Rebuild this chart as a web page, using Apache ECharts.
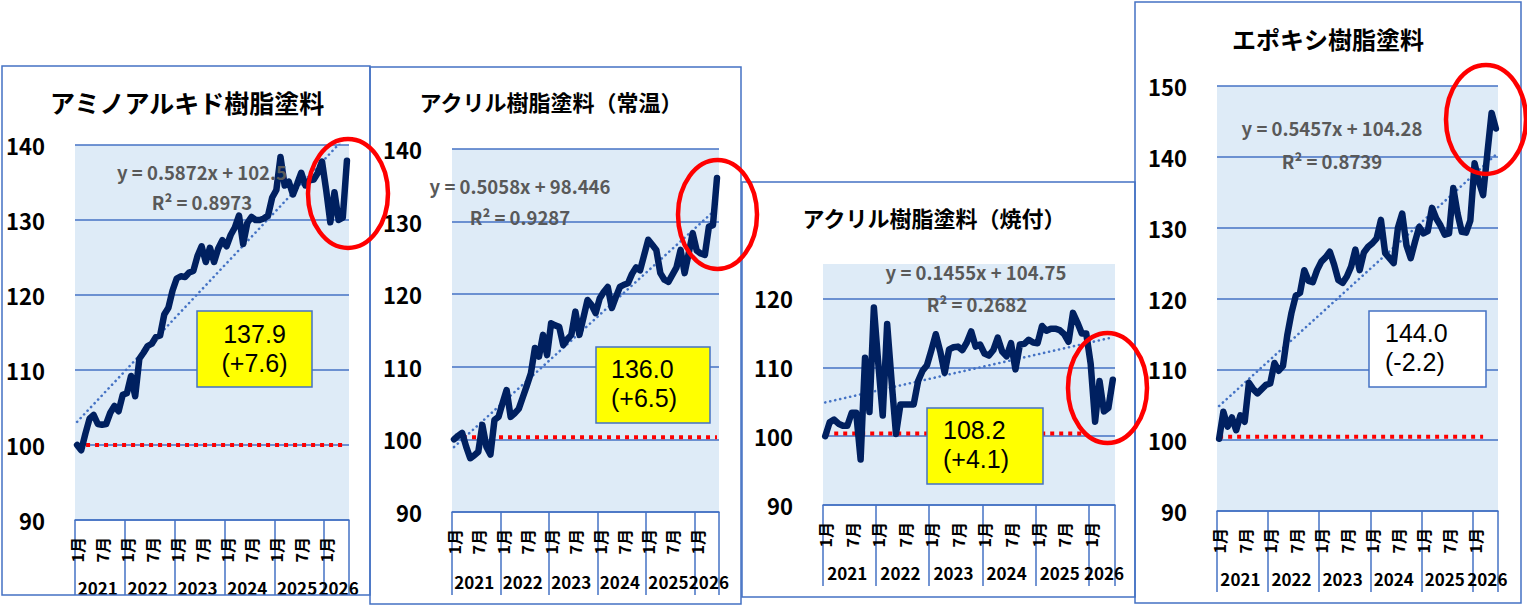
<!DOCTYPE html>
<html lang="ja">
<head>
<meta charset="UTF-8">
<title>樹脂塗料 指数推移</title>
<style>
  * { margin: 0; padding: 0; }
  html, body { width: 1527px; height: 606px; background: #fff; overflow: hidden; }
  #chart { width: 1527px; height: 606px; }
</style>
</head>
<body>
<div id="chart"></div>
<script src="https://cdn.jsdelivr.net/npm/echarts@6/dist/echarts.min.js"></script>
<script>
var FONT = '"Noto Sans CJK JP", "Noto Sans", sans-serif';
var BOX_FONT = '"Liberation Sans", Arial, sans-serif';
var BLUE = '#4472C4';
var NAVY = '#002060';

// ---- data ----
var years = ['2021', '2022', '2023', '2024', '2025', '2026'];
var monthsPerYear = [12, 12, 12, 12, 12, 6];
var monthNames = ['1月', '2月', '3月', '4月', '5月', '6月', '7月', '8月', '9月', '10月', '11月', '12月'];

var titles = ['アミノアルキド樹脂塗料', 'アクリル樹脂塗料（常温）', 'アクリル樹脂塗料（焼付）', 'エポキシ樹脂塗料'];

var aminoAlkyd = [
  100.0, 99.3, 101.5, 103.5, 104.0, 102.8, 102.7, 102.8, 104.3, 105.2, 104.5, 106.7,
  106.9, 109.2, 106.5, 111.5, 112.3, 113.2, 113.5, 114.4, 114.6, 117.4, 118.3, 120.6,
  122.2, 122.5, 122.4, 123.0, 123.2, 125.2, 126.5, 124.4, 126.3, 124.4, 126.2, 127.3,
  126.5, 128.0, 129.0, 130.6, 126.8, 129.6, 130.4, 130.0, 130.0, 130.2, 130.6, 133.0,
  134.0, 138.4, 134.6, 135.1, 133.4, 134.8, 136.3, 134.6, 135.3, 135.4, 136.3, 137.8,
  134.0, 129.7, 133.7, 130.0, 130.3, 137.9
];
var acrylicAmbient = [
  100.0, 100.5, 100.9, 99.0, 97.4, 97.8, 98.3, 102.0, 99.0, 97.9, 102.7, 103.1,
  105.0, 106.8, 103.1, 103.6, 104.2, 105.8, 107.4, 109.1, 112.6, 111.4, 114.4, 111.6,
  116.0, 115.7, 115.5, 113.0, 113.8, 114.4, 117.6, 114.4, 116.8, 119.2, 118.5, 117.4,
  119.4, 120.3, 121.0, 118.1, 119.6, 121.0, 121.3, 121.5, 122.8, 123.7, 123.3, 125.4,
  127.5, 126.8, 126.1, 122.9, 122.0, 121.7, 122.7, 123.7, 126.1, 122.9, 125.6, 128.4,
  126.0, 125.6, 125.4, 129.3, 129.5, 136.0
];
var acrylicBaked = [
  100.0, 102.0, 102.4, 101.8, 101.5, 101.5, 103.4, 103.4, 96.6, 111.4, 103.5, 118.7,
  110.5, 103.0, 116.3, 108.0, 100.3, 104.6, 104.6, 104.6, 104.6, 108.0, 109.5, 110.3,
  112.5, 114.8, 112.3, 109.2, 112.6, 112.9, 113.0, 112.5, 113.6, 115.2, 113.0, 113.3,
  112.0, 111.7, 112.5, 114.3, 112.3, 111.6, 113.5, 109.7, 113.3, 113.4, 114.0, 113.6,
  113.5, 116.0, 115.3, 115.6, 115.6, 115.4, 114.8, 113.7, 117.9, 116.5, 114.9, 114.9,
  110.5, 102.1, 108.0, 103.6, 104.1, 108.2
];
var epoxy = [
  100.2, 104.0, 101.9, 103.2, 101.4, 103.5, 102.6, 108.1, 107.2, 106.6, 107.2, 107.8,
  108.0, 110.9, 109.8, 110.5, 114.8, 118.0, 120.4, 120.8, 124.0, 122.5, 122.3, 124.0,
  125.2, 125.8, 126.6, 124.8, 122.6, 122.2, 123.1, 124.5, 126.9, 124.0, 126.5, 127.3,
  127.8, 128.5, 131.1, 126.4, 125.7, 125.0, 130.0, 132.0, 127.5, 125.7, 128.0, 130.1,
  129.2, 129.5, 132.8, 131.3, 130.3, 129.0, 129.2, 135.6, 132.0, 129.4, 129.3, 131.0,
  139.1, 136.5, 134.6, 140.5, 146.2, 144.0
];

var trendSlope = [0.5872, 0.5058, 0.1455, 0.5457];
var trendIntercept = [102.5, 98.446, 104.75, 104.28];
var trendR2 = ['0.8973', '0.9287', '0.2682', '0.8739'];
var latestValue = ['137.9', '136.0', '108.2', '144.0'];
var latestChange = ['(+7.6)', '(+6.5)', '(+4.1)', '(-2.2)'];
var axisMax = [140, 140, 125, 150];
var baseLevel = [100, 100.3, 100.4, 100.5];
var baseLastIndex = [65, 65, 58, 62];

var seriesData = [aminoAlkyd, acrylicAmbient, acrylicBaked, epoxy];

// ---- layout of the four panels ----
var panels = [
  { grid: [75, 145, 274, 375], frame: [2, 66, 368, 529], tickLen: 75, yearMargin: 59,
    title: [187, 102, 25], eq: [202, 172], r2: [202, 202],
    box: [197, 311, 115, 76], boxFill: '#FFFF00', boxText: [254.5, 'center', 334, 363],
    ellipse: [348, 193.5, 40, 54.5] },
  { grid: [452, 149, 267, 363], frame: [370, 67, 371, 537], tickLen: 83, yearMargin: 61,
    title: [551, 101, 22], eq: [520, 186], r2: [520, 217],
    box: [596, 347, 114, 76], boxFill: '#FFFF00', boxText: [611, 'left', 369, 398],
    ellipse: [717.5, 214.5, 39.5, 54.5] },
  { grid: [823, 264, 292, 241], frame: [742, 182, 393, 415], tickLen: 81, yearMargin: 59,
    title: [934, 217, 22], eq: [976, 272], r2: [977, 304],
    box: [927, 408, 116, 76], boxFill: '#FFFF00', boxText: [943, 'left', 430, 459],
    ellipse: [1107.5, 388, 39.5, 55] },
  { grid: [1217, 86, 281, 425], frame: [1135, 2, 386, 601], tickLen: 81, yearMargin: 59,
    title: [1328, 38, 24], eq: [1332, 128], r2: [1332, 161],
    box: [1369, 311, 117, 76], boxFill: '#FFFFFF', boxText: [1385, 'left', 333, 362],
    ellipse: [1486, 119.5, 40, 54.5] }
];

// category labels: month row and year row
var monthCats = [];
var yearCats = [];
var yearLabelAt = {};
var lastYearAt = -1;
var start = 0;
years.forEach(function (y, k) {
  for (var m = 0; m < monthsPerYear[k]; m++) {
    monthCats.push(monthNames[m]);
    yearCats.push(y);
  }
  if (k === years.length - 1) lastYearAt = start + monthsPerYear[k] / 2;
  else yearLabelAt[start + monthsPerYear[k] / 2 - 1] = true;
  start += monthsPerYear[k];
});

var grids = [], xAxes = [], yAxes = [], series = [], elements = [];

function yearAxis(k, margin, show) {
  return {
    type: 'category', gridIndex: k, position: 'bottom', data: yearCats,
    axisLine: { show: false }, axisTick: { show: false },
    axisLabel: {
      interval: show, hideOverlap: false,
      margin: margin, fontSize: 17, fontWeight: 'bold', color: '#000',
      fontFamily: FONT
    },
    splitLine: { show: false }
  };
}

panels.forEach(function (p, k) {
  grids.push({
    left: p.grid[0], top: p.grid[1], width: p.grid[2], height: p.grid[3],
    show: true, backgroundColor: '#DEEBF7', borderWidth: 0
  });

  // month row (its long ticks are the year dividers)
  xAxes.push({
    type: 'category', gridIndex: k, position: 'bottom', data: monthCats,
    axisLine: { lineStyle: { color: BLUE, width: 1.5 } },
    axisTick: {
      show: true, length: p.tickLen, interval: 11,
      lineStyle: { color: BLUE, width: 1.5 }
    },
    axisLabel: {
      interval: function (i) { return i % 6 === 0; },
      rotate: 90, margin: 17, fontSize: 16, fontWeight: 'bold',
      color: '#000', fontFamily: FONT
    },
    splitLine: { show: false }
  });
  // year row: full years, then the partial last year on its own axis
  xAxes.push(yearAxis(k, p.yearMargin, function (i) { return !!yearLabelAt[i]; }));
  xAxes.push(yearAxis(k, p.yearMargin, function (i) { return i === lastYearAt; }));

  yAxes.push({
    type: 'value', gridIndex: k, min: 90, max: axisMax[k], interval: 10,
    axisLine: { show: false }, axisTick: { show: false },
    axisLabel: {
      margin: 30, fontSize: 22, fontWeight: 'bold', color: '#000', fontFamily: FONT,
      showMaxLabel: axisMax[k] % 10 === 0
    },
    splitLine: {
      show: true, showMaxLine: axisMax[k] % 10 === 0,
      lineStyle: { color: BLUE, width: 1.5 }
    }
  });

  var vals = seriesData[k];
  var n = vals.length;
  var xi = 3 * k;

  // red reference level
  series.push({
    type: 'line', xAxisIndex: xi, yAxisIndex: k, silent: true, showSymbol: false,
    data: [[0, baseLevel[k]], [baseLastIndex[k], baseLevel[k]]],
    lineStyle: { color: '#FF0000', width: 4, type: [4, 5] }, z: 3
  });
  // linear trend from the printed equation
  series.push({
    type: 'line', xAxisIndex: xi, yAxisIndex: k, silent: true, showSymbol: false,
    data: [[0, trendIntercept[k] + trendSlope[k]], [n - 1, trendIntercept[k] + trendSlope[k] * n]],
    lineStyle: { color: BLUE, width: 2.6, type: [0.1, 5], cap: 'round' }, z: 4
  });
  // index
  series.push({
    name: titles[k], type: 'line', xAxisIndex: xi, yAxisIndex: k,
    showSymbol: false, data: vals,
    lineStyle: { color: NAVY, width: 6.5, cap: 'round', join: 'round' }, z: 5
  });

  // frame
  elements.push({
    type: 'rect', silent: true, z: 1,
    shape: { x: p.frame[0], y: p.frame[1], width: p.frame[2], height: p.frame[3] },
    style: { fill: 'none', stroke: BLUE, lineWidth: 1.5 }
  });
  // title
  elements.push({
    type: 'text', silent: true, z: 50, x: p.title[0], y: p.title[1],
    style: { text: titles[k], fill: '#000', font: 'bold ' + p.title[2] + 'px ' + FONT,
             textAlign: 'center', textVerticalAlign: 'middle' }
  });
  // trend equation
  elements.push({
    type: 'text', silent: true, z: 50, x: p.eq[0], y: p.eq[1],
    style: { text: 'y = ' + trendSlope[k] + 'x + ' + trendIntercept[k], fill: '#595959',
             font: 'bold 18.5px ' + FONT, textAlign: 'center', textVerticalAlign: 'middle' }
  });
  elements.push({
    type: 'text', silent: true, z: 50, x: p.r2[0], y: p.r2[1],
    style: { text: 'R² = ' + trendR2[k], fill: '#595959',
             font: 'bold 18.5px ' + FONT, textAlign: 'center', textVerticalAlign: 'middle' }
  });
  // latest value box
  elements.push({
    type: 'rect', silent: true, z: 60,
    shape: { x: p.box[0], y: p.box[1], width: p.box[2], height: p.box[3] },
    style: { fill: p.boxFill, stroke: BLUE, lineWidth: 1.5 }
  });
  [latestValue[k], latestChange[k]].forEach(function (t, j) {
    elements.push({
      type: 'text', silent: true, z: 61, x: p.boxText[0], y: p.boxText[2 + j],
      style: { text: t, fill: '#000', font: '25px ' + BOX_FONT,
               textAlign: p.boxText[1], textVerticalAlign: 'middle' }
    });
  });
  // highlight ellipse
  elements.push({
    type: 'ellipse', silent: true, z: 70,
    shape: { cx: p.ellipse[0], cy: p.ellipse[1], rx: p.ellipse[2], ry: p.ellipse[3] },
    style: { fill: 'none', stroke: '#FF0000', lineWidth: 4.5 }
  });
});

var chart = echarts.init(document.getElementById('chart'), null, { renderer: 'svg' });
chart.setOption({
  animation: false,
  backgroundColor: '#fff',
  textStyle: { fontFamily: FONT },
  grid: grids,
  xAxis: xAxes,
  yAxis: yAxes,
  series: series,
  graphic: { elements: elements }
});
</script>
</body>
</html>
